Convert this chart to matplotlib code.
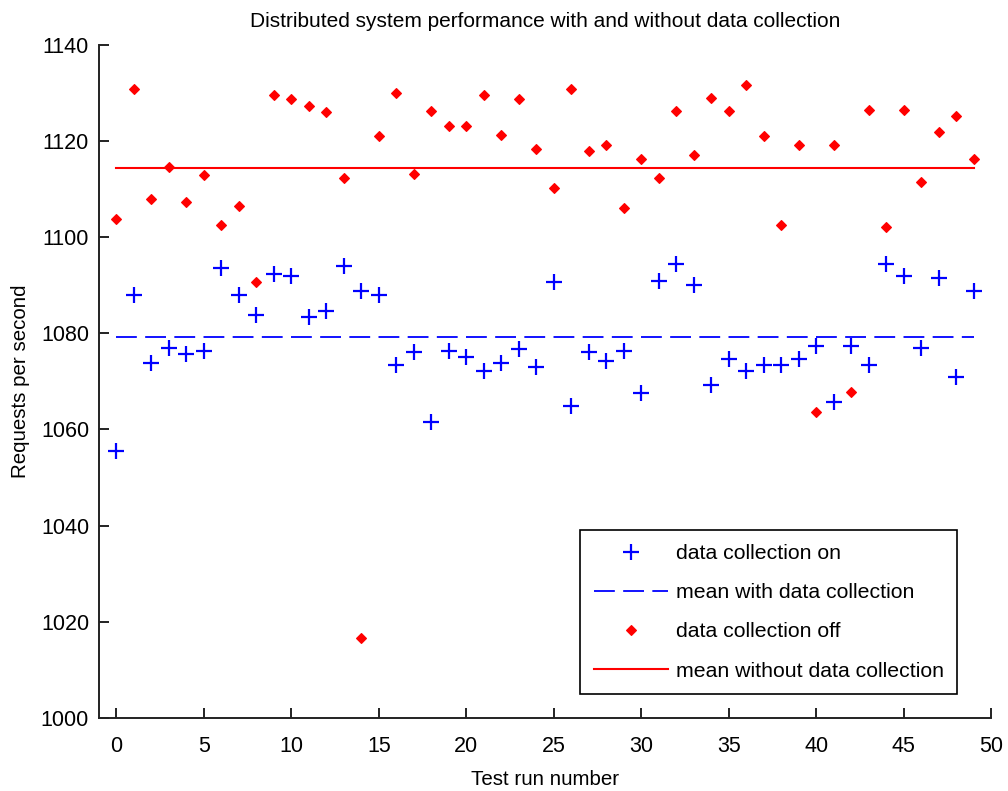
import numpy as np
import matplotlib
matplotlib.use("Agg")
import matplotlib.pyplot as plt

plt.rcParams['font.family'] = ['Liberation Sans', 'DejaVu Sans']
plt.rcParams['lines.scale_dashes'] = False

# Requests per second for each test run
runs = np.arange(50)
rps_on = [1055.6, 1087.9, 1073.9, 1077.0, 1075.6, 1076.3, 1093.5, 1087.9, 1083.7, 1092.3,
          1091.8, 1083.3, 1084.6, 1094.0, 1088.8, 1087.9, 1073.4, 1076.1, 1061.5, 1076.3,
          1075.1, 1072.2, 1073.9, 1076.8, 1073.0, 1090.6, 1064.9, 1076.1, 1074.3, 1076.4,
          1067.5, 1090.9, 1094.4, 1090.1, 1069.2, 1074.7, 1072.2, 1073.4, 1073.4, 1074.7,
          1077.3, 1065.8, 1077.3, 1073.4, 1094.4, 1091.8, 1076.9, 1091.4, 1070.9, 1088.8]
rps_off = [1103.8, 1130.7, 1108.0, 1114.5, 1107.2, 1112.8, 1102.6, 1106.4, 1090.6, 1129.5,
           1128.6, 1127.3, 1126.0, 1112.3, 1016.6, 1120.9, 1130.0, 1113.2, 1126.1, 1123.0,
           1123.0, 1129.5, 1121.3, 1128.6, 1118.4, 1110.2, 1130.7, 1117.9, 1119.2, 1106.0,
           1116.2, 1112.3, 1126.1, 1117.1, 1129.0, 1126.1, 1131.6, 1120.9, 1102.5, 1119.2,
           1063.6, 1119.2, 1067.8, 1126.5, 1102.1, 1126.5, 1111.5, 1121.8, 1125.2, 1116.2]

mean_on = np.mean(rps_on)
mean_off = np.mean(rps_off)

fig = plt.figure(figsize=(10.08, 7.91), dpi=100)
ax = fig.add_axes([0.098, 0.0923, 0.8854, 0.8513])

ax.plot(runs, rps_on, linestyle='none', marker='+', color='#0000ff',
        markersize=11, markeredgewidth=1.6, label='data collection on')
ax.plot(runs, np.full(len(runs), mean_on), color='#0000ff', linewidth=1.3,
        dashes=(15, 6), label='mean with data collection')
ax.plot(runs, rps_off, linestyle='none', marker='D', color='#ff0000',
        markersize=5.5, markeredgewidth=0.8, label='data collection off')
ax.plot(runs, np.full(len(runs), mean_off), color='#ff0000', linewidth=1.5,
        label='mean without data collection')

ax.set_xlim(-1, 50)
ax.set_ylim(1000, 1140)
ax.set_xticks(np.arange(0, 51, 5))
ax.set_yticks(np.arange(1000, 1141, 20))

for side in ('top', 'right'):
    ax.spines[side].set_visible(False)
for side in ('left', 'bottom'):
    ax.spines[side].set_linewidth(1.4)
    ax.spines[side].set_color('#222222')

ax.tick_params(direction='in', length=7, width=1.4, colors='#222222',
               labelsize=15.5, labelcolor='black')
ax.tick_params(axis='x', pad=13)
ax.tick_params(axis='y', pad=7)

ax.set_title('Distributed system performance with and without data collection',
             fontsize=15, pad=13)
ax.set_xlabel('Test run number', fontsize=14.8, labelpad=9)
ax.set_ylabel('Requests per second', fontsize=14.8, labelpad=8)

leg = ax.legend(loc='lower right', bbox_to_anchor=(0.962, 0.035), fontsize=15.3,
                fancybox=False, framealpha=1, edgecolor='black',
                handlelength=3.5, handletextpad=0.35, borderpad=0.65,
                labelspacing=0.95, borderaxespad=0)
leg.get_frame().set_linewidth(1.2)

fig.savefig('out.png', dpi=100)
